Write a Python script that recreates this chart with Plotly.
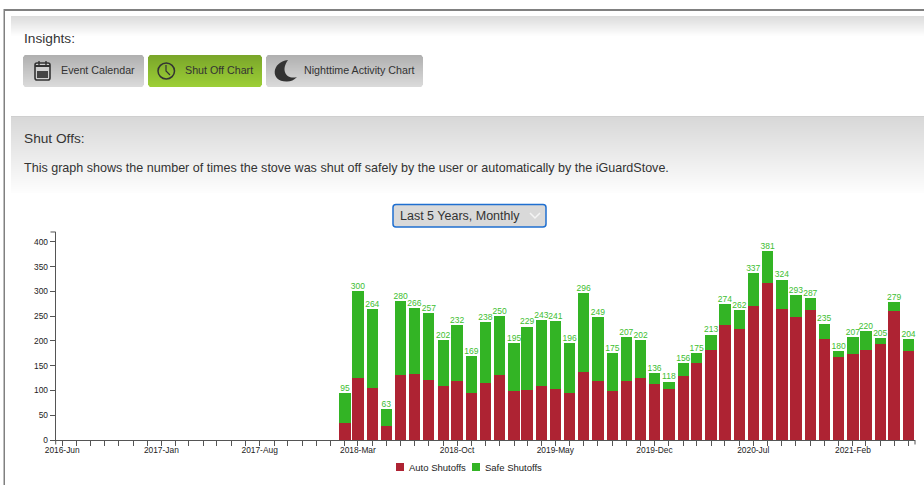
import plotly.graph_objects as go

W, H = 924, 485
months = ["2018-02","2018-03","2018-04","2018-05","2018-06","2018-07","2018-08","2018-09","2018-10","2018-11","2018-12",
          "2019-01","2019-02","2019-03","2019-04","2019-05","2019-06","2019-07","2019-08","2019-09","2019-10","2019-11","2019-12",
          "2020-01","2020-02","2020-03","2020-04","2020-05","2020-06","2020-07","2020-08","2020-09","2020-10","2020-11","2020-12",
          "2021-01","2021-02","2021-03","2021-04","2021-05","2021-06"]
totals = [95,300,264,63,280,266,257,202,232,169,238,250,195,229,243,241,196,296,249,175,207,202,136,118,156,175,213,274,262,337,381,324,293,287,235,180,207,220,205,279,204]
auto = [34,125,106,29,131,133,122,109,119,94,115,131,99,100,110,102,94,138,120,99,119,125,114,102,129,156,182,233,224,271,317,264,248,262,204,168,174,182,193,261,180]
safe = [t - a for t, a in zip(totals, auto)]
tick_dates = ["2016-06-01","2017-01-01","2017-08-01","2018-03-01","2018-10-01","2019-05-01","2019-12-01","2020-07-01","2021-02-01"]
tick_labels = ["2016-Jun","2017-Jan","2017-Aug","2018-Mar","2018-Oct","2019-May","2019-Dec","2020-Jul","2021-Feb"]
y_ticks = [0,50,100,150,200,250,300,350,400]

FONT = "Liberation Sans"
RED, GREEN = "#AE2333", "#33B425"
dates = [m + "-01" for m in months]

def X(p): return p / W
def Y(p): return 1 - p / H

def rect(x0, y0, x1, y1, fill, line=None, lw=0, layer="below"):
    return dict(type="rect", xref="paper", yref="paper", x0=X(x0), x1=X(x1), y0=Y(y0), y1=Y(y1),
                fillcolor=fill, line=dict(color=line or fill, width=lw), layer=layer)

def path(cmds, fill=None, line=None, lw=0):
    out = []
    for c in cmds:
        if isinstance(c, str):
            out.append(c)
        else:
            out.append(f"{X(c[0]):.5f},{Y(c[1]):.5f}")
    d = dict(type="path", xref="paper", yref="paper", path=" ".join(out), layer="above",
             line=dict(color=line or "rgba(0,0,0,0)", width=lw))
    if fill:
        d["fillcolor"] = fill
    return d

def mix(a, b, t):
    return "rgb(%d,%d,%d)" % tuple(round(a[i] + (b[i] - a[i]) * t) for i in range(3))

def gradient(x0, y0, x1, y1, c0, c1, round_px=0):
    n = y1 - y0
    out = []
    for i in range(n):
        edge = min(i, n - 1 - i)
        inset = max(round_px - edge, 0) * 0.7
        out.append(dict(type="rect", xref="paper", yref="paper", x0=X(x0 + inset), x1=X(x1 - inset), y0=Y(y0 + i), y1=Y(y0 + i + 1),
                        fillcolor=mix(c0, c1, i / max(n - 1, 1)), line=dict(width=0), layer="below"))
    return out

def rrect(x0, y0, x1, y1, r, fill=None, line=None, lw=0):
    return path(["M", (x0 + r, y0), "L", (x1 - r, y0), "Q", (x1, y0), (x1, y0 + r), "L", (x1, y1 - r), "Q", (x1, y1), (x1 - r, y1),
                 "L", (x0 + r, y1), "Q", (x0, y1), (x0, y1 - r), "L", (x0, y0 + r), "Q", (x0, y0), (x0 + r, y0), "Z"], fill, line, lw)

shapes = []
shapes.append(rect(4, 9, 924, 11, "#808080"))
shapes.append(rect(3.5, 9, 5, 485, "#808080"))
shapes += gradient(11, 16, 924, 37, (220, 220, 220), (255, 255, 255))
shapes.append(rect(11, 116, 924, 117, "#cfcfcf"))
shapes += gradient(11, 117, 924, 193, (216, 216, 216), (253, 253, 253))
# buttons
shapes += gradient(23, 55, 144, 87, (176, 176, 176), (218, 218, 218), 2)
shapes += gradient(148, 55, 262, 87, (122, 166, 42), (156, 206, 54), 2)
shapes += gradient(266, 55, 423, 87, (176, 176, 176), (218, 218, 218), 2)
# dropdown
shapes.append(rrect(393, 204.5, 546, 227, 3, "#d9d9d9", "#1f6fd0", 1.5))
shapes.append(path(["M", (530, 213), "L", (535, 218), "L", (540, 213)], None, "#f4f4f4", 1.5))
# calendar icon
shapes.append(rrect(35, 63, 50, 80, 2, "#d0d0d0", "#333333", 1.6))
shapes.append(rect(37, 71, 48, 78, "#444444", layer="above"))
shapes.append(rect(35, 65, 50, 67, "#333333", layer="above"))
shapes.append(path(["M", (39, 61), "L", (39, 65)], None, "#333333", 1.4))
shapes.append(path(["M", (46, 61), "L", (46, 65)], None, "#333333", 1.4))
# clock icon
shapes.append(dict(type="circle", xref="paper", yref="paper", x0=X(158), x1=X(174.5), y0=Y(63), y1=Y(79),
                   line=dict(color="#333333", width=1.5), layer="above"))
shapes.append(path(["M", (166, 65), "L", (166, 71), "L", (170, 75)], None, "#333333", 1.2))
# moon icon
shapes.append(path(["M", (288, 60), "C", (271, 62), (270, 82), (287, 81.5), "C", (291, 81.5), (294, 80), (297, 77),
                    "C", (287, 80), (280, 71), (288, 60), "Z"], "#333333"))
# axis end ticks
ax = "#555555"
shapes.append(path(["M", (50.5, 232), "L", (55.7, 232)], None, ax, 1))
shapes.append(path(["M", (55.7, 440), "L", (55.7, 444.5)], None, ax, 1))
shapes.append(path(["M", (915, 440), "L", (915, 444.5)], None, ax, 1))
# legend swatches
shapes.append(rect(396, 463, 404, 471, RED, layer="above"))
shapes.append(rect(472, 463, 480, 471, GREEN, layer="above"))

PAD = 2
def note(text, x, y, size, color="#333333"):
    return dict(text=text, xref="paper", yref="paper", x=X(x - PAD), y=Y(y), xanchor="left", yanchor="middle",
                showarrow=False, font=dict(family=FONT, size=size, color=color))

annotations = [
    note("Insights:", 24, 38.5, 13.7),
    note("Event Calendar", 61, 70, 10.7),
    note("Shut Off Chart", 185, 70, 10.7),
    note("Nighttime Activity Chart", 303.5, 70, 10.7),
    note("Shut Offs:", 24, 138, 13.7),
    note("This graph shows the number of times the stove was shut off safely by the user or automatically by the iGuardStove.", 24, 167.5, 12.56),
    note("Last 5 Years, Monthly", 400, 215.5, 12.5),
    note("Auto Shutoffs", 408.5, 467, 9.5, "#222222"),
    note("Safe Shutoffs", 484.5, 467, 9.5, "#222222"),
]

BAR_MS = 24.4 * 86400000
fig = go.Figure()
fig.add_bar(x=dates, y=auto, name="Auto Shutoffs", width=BAR_MS, marker=dict(color=RED, line=dict(width=0)), hoverinfo="skip")
fig.add_bar(x=dates, y=safe, name="Safe Shutoffs", width=BAR_MS, marker=dict(color=GREEN, line=dict(width=0)), hoverinfo="skip")
fig.add_scatter(x=dates, y=totals, mode="text", text=[str(t) for t in totals], textposition="top center",
                textfont=dict(family=FONT, size=8.5, color="#3DBE30"), hoverinfo="skip", cliponaxis=False)

fig.update_layout(
    width=W, height=H, margin=dict(l=0, r=0, t=0, b=0, pad=0, autoexpand=False), barmode="stack", showlegend=False,
    paper_bgcolor="white", plot_bgcolor="rgba(0,0,0,0)",
    font=dict(family=FONT, size=8, color="#222222"),
    shapes=shapes, annotations=annotations,
    xaxis=dict(type="date", domain=[X(55.7), X(915)], range=["2016-05-18", "2021-06-15"],
               tickmode="array", tickvals=tick_dates, ticktext=tick_labels, ticks="outside", ticklen=5, tickwidth=1, tickcolor=ax,
               minor=dict(dtick="M1", tick0="2016-06-01", ticks="outside", ticklen=5, tickwidth=1, tickcolor=ax),
               showgrid=False, zeroline=False, showline=True, linecolor=ax, linewidth=1, ticklabelstandoff=-3,
               tickfont=dict(family=FONT, size=8.4, color="#222222"), anchor="y"),
    yaxis=dict(domain=[Y(440), Y(232)], range=[0, 420], tickmode="array", tickvals=y_ticks, ticks="outside", ticklen=5,
               tickwidth=1, tickcolor=ax, showgrid=False, zeroline=False, showline=True, linecolor=ax, linewidth=1,
               tickfont=dict(family=FONT, size=8.4, color="#222222"), anchor="x"),
)
fig.write_html("out.html", config=dict(displayModeBar=False),
               post_script="document.body.style.margin='0';document.body.style.overflow='hidden';")
